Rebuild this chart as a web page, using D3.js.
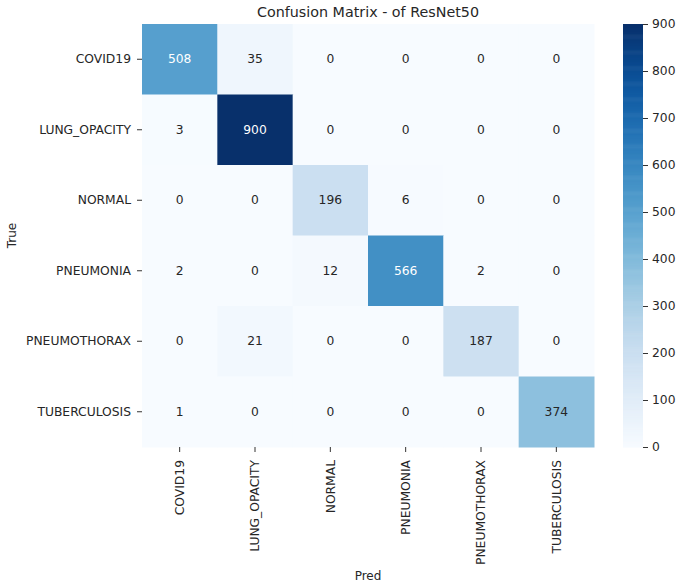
<!DOCTYPE html>
<html><head><meta charset="utf-8">
<script src="https://cdn.jsdelivr.net/npm/d3@7"></script>
<style>body{margin:0;background:#fff}text{font-family:"DejaVu Sans",sans-serif;fill:#262626}</style>
</head><body>
<svg id="c" width="680" height="585"></svg>
<script>
const categories = ["COVID19","LUNG_OPACITY","NORMAL","PNEUMONIA","PNEUMOTHORAX","TUBERCULOSIS"];
const rowCOVID19 = [508,35,0,0,0,0];
const rowLUNG_OPACITY = [3,900,0,0,0,0];
const rowNORMAL = [0,0,196,6,0,0];
const rowPNEUMONIA = [2,0,12,566,2,0];
const rowPNEUMOTHORAX = [0,21,0,0,187,0];
const rowTUBERCULOSIS = [1,0,0,0,0,374];
const matrix = [rowCOVID19,rowLUNG_OPACITY,rowNORMAL,rowPNEUMONIA,rowPNEUMOTHORAX,rowTUBERCULOSIS];
const colorTicks = [0,100,200,300,400,500,600,700,800,900];
const title = "Confusion Matrix - of ResNet50";

const svg = d3.select("#c");
const L=142,R=594,T=24,B=447;
const x = d3.scaleBand().domain(categories).range([L,R]);
const y = d3.scaleBand().domain(categories).range([T,B]);
const color = d3.scaleSequential(d3.interpolateBlues).domain([0,900]);

const cells=[];
matrix.forEach((row,i)=>row.forEach((v,j)=>cells.push({r:categories[i],c:categories[j],v})));
svg.append("g").selectAll("rect").data(cells).join("rect")
  .attr("x",d=>x(d.c)).attr("y",d=>y(d.r))
  .attr("width",x.bandwidth()+0.5).attr("height",y.bandwidth()+0.5)
  .attr("fill",d=>color(d.v));
function lum(c){const o=d3.rgb(c);const f=v=>{v/=255;return v<=0.03928?v/12.92:Math.pow((v+0.055)/1.055,2.4)};return 0.2126*f(o.r)+0.7152*f(o.g)+0.0722*f(o.b);}
svg.append("g").selectAll("text").data(cells).join("text")
  .attr("x",d=>x(d.c)+x.bandwidth()/2).attr("y",d=>y(d.r)+y.bandwidth()/2)
  .attr("text-anchor","middle").attr("dominant-baseline","central")
  .style("font-size","12.3px")
  .style("fill",d=>lum(color(d.v))<0.408?"#ffffff":"#262626")
  .text(d=>d.v);

const ax = svg.append("g").attr("transform",`translate(0,${B})`).call(d3.axisBottom(x).tickSize(5));
ax.select(".domain").remove();
ax.selectAll("line").attr("stroke","#333");
ax.selectAll("text").attr("transform","rotate(-90)").attr("text-anchor","end")
  .attr("x",-13).attr("y",0).attr("dy","0.35em").style("font-size","12.3px").style("fill","#262626");
const ay = svg.append("g").attr("transform",`translate(${L},0)`).call(d3.axisLeft(y).tickSize(5).tickPadding(6));
ay.select(".domain").remove();
ay.selectAll("line").attr("stroke","#333");
ay.selectAll("text").style("font-size","12.3px").style("fill","#262626").attr("font-family","DejaVu Sans");

// colorbar
const cbL=623,cbW=20;
const cy = d3.scaleLinear().domain([0,900]).range([B,T]);
const steps = d3.range(0,900,2);
svg.append("g").selectAll("rect").data(steps).join("rect")
  .attr("x",cbL).attr("width",cbW)
  .attr("y",d=>cy(d+2)).attr("height",d=>cy(d)-cy(d+2)+0.6)
  .attr("fill",d=>color(d+1));
const ac = svg.append("g").attr("transform",`translate(${cbL+cbW},0)`).call(d3.axisRight(cy).tickValues(colorTicks).tickSize(5).tickPadding(4));
ac.select(".domain").remove();
ac.selectAll("line").attr("stroke","#333");
ac.selectAll("text").style("font-size","12.3px").style("fill","#262626");

svg.append("text").attr("x",(L+R)/2).attr("y",17).attr("text-anchor","middle").style("font-size","14.3px").text(title);
svg.append("text").attr("x",(L+R)/2).attr("y",580).attr("text-anchor","middle").style("font-size","12px").text("Pred");
svg.append("text").attr("transform",`translate(15.5,${(T+B)/2}) rotate(-90)`).attr("text-anchor","middle").style("font-size","12px").text("True");
</script>
</body></html>
